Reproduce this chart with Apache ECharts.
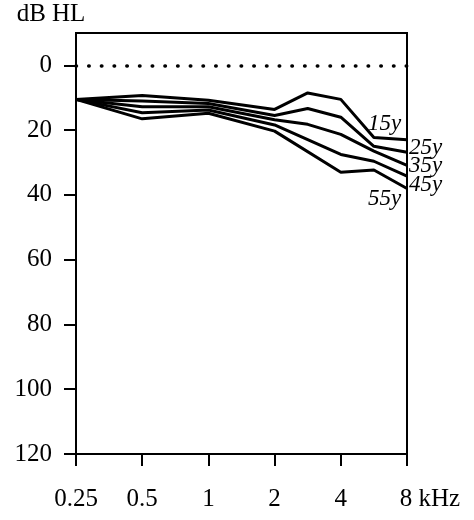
<!DOCTYPE html>
<html>
<head>
<meta charset="utf-8">
<script src="https://cdn.jsdelivr.net/npm/echarts@6/dist/echarts.min.js"></script>
<style>html,body{margin:0;padding:0;background:#fff}#c{width:474px;height:520px}</style>
</head>
<body>
<div id="c"></div>
<script>
// Frequencies (kHz)
var freqs = [0.25, 0.5, 1, 2, 3, 4, 6, 8];
// Hearing thresholds (dB HL) by age group
var age15 = [10.5, 9.3, 10.8, 13.6, 8.5, 10.5, 22.3, 23.0];
var age25 = [10.5, 11.0, 11.8, 15.5, 13.3, 16.0, 25.0, 26.8];
var age35 = [10.5, 12.8, 12.8, 16.8, 18.2, 21.3, 26.5, 30.9];
var age45 = [10.5, 14.6, 13.8, 18.4, null, 27.5, 29.6, 34.2];
var age55 = [10.5, 16.5, 14.8, 20.3, null, 33.0, 32.3, 38.0];
var seriesNames = ['15y', '25y', '35y', '45y', '55y'];
var yTicks = [0, 20, 40, 60, 80, 100, 120];
var xTickLabels = ['0.25', '0.5', '1', '2', '4', '8 kHz'];

// audiogram placement: octaves equally spaced, 3 and 6 kHz midway
function pos(f) {
  if (f === 3) return 3.5;
  if (f === 6) return 4.5;
  return Math.log2(f / 0.25);
}
function toPairs(vals) {
  return freqs.map(function (f, i) { return [pos(f), vals[i]]; });
}
var font = 'Liberation Serif';
var labelOffsets = [[-44, -16], [-3, -4], [-3, 1], [-3, 9], [-44, 11]];
var allVals = [age15, age25, age35, age45, age55];

var series = allVals.map(function (v, i) {
  return {
    type: 'line',
    name: seriesNames[i],
    data: toPairs(v),
    connectNulls: true,
    showSymbol: false,
    symbol: 'none',
    lineStyle: { color: '#000', width: 3 },
    z: 3,
    endLabel: {
      show: true,
      formatter: seriesNames[i],
      fontFamily: font,
      fontStyle: 'italic',
      fontSize: 23,
      color: '#000',
      distance: 5,
      offset: labelOffsets[i]
    }
  };
});
series.push({
  type: 'line',
  data: [],
  markLine: {
    silent: true,
    symbol: 'none',
    label: { show: false },
    lineStyle: { color: '#000', width: 3.5, type: [0.5, 12.2], cap: 'round' },
    data: [{ yAxis: 0 }]
  }
});

var chart = echarts.init(document.getElementById('c'));
chart.setOption({
  animation: false,
  backgroundColor: '#fff',
  grid: { left: 76, right: 67, top: 33, bottom: 66, show: true, borderColor: '#000', borderWidth: 2 },
  xAxis: {
    type: 'value',
    position: 'bottom',
    min: 0, max: 5, interval: 1,
    axisLine: { onZero: false, lineStyle: { color: '#000', width: 2 } },
    axisTick: { show: true, length: 12, lineStyle: { color: '#000', width: 2 } },
    splitLine: { show: false },
    axisLabel: {
      fontFamily: font, fontSize: 25, color: '#000', margin: 33,
      formatter: function (v) {
        var t = xTickLabels[Math.round(v)];
        return t.indexOf('kHz') >= 0 ? '{p|}{e|' + t + '}' : t;
      },
      rich: {
        p: { width: 46 },
        e: { fontFamily: font, fontSize: 25, color: '#000' }
      }
    }
  },
  yAxis: {
    type: 'value',
    inverse: true,
    min: -10, max: 120,
    name: 'dB HL',
    nameLocation: 'start',
    nameGap: 6,
    nameTextStyle: { fontFamily: font, fontSize: 25, color: '#000', align: 'center', padding: [0, 50, 0, 0] },
    axisLine: { onZero: false, lineStyle: { color: '#000', width: 2 } },
    axisTick: { show: true, length: 12, customValues: yTicks, lineStyle: { color: '#000', width: 2 } },
    splitLine: { show: false },
    axisLabel: { fontFamily: font, fontSize: 25, color: '#000', margin: 24, customValues: yTicks }
  },
  series: series
});
</script>
</body>
</html>
